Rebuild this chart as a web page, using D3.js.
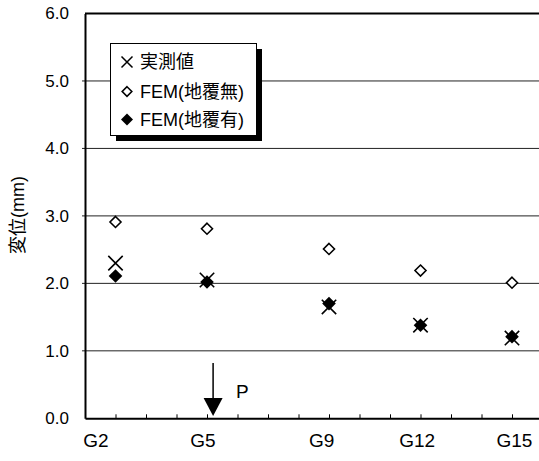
<!DOCTYPE html>
<html><head><meta charset="utf-8">
<script src="https://cdn.jsdelivr.net/npm/d3@7"></script>
<style>body{margin:0;background:#fff}svg{display:block}text{font-family:"Liberation Sans",Arial,"Noto Sans CJK JP",sans-serif;}</style>
</head><body>
<script>
// ---- data ----
const girders = ["G2","G5","G9","G12","G15"];
const girderNo = [2,5,9,12,15];
const measured = [2.30,2.05,1.65,1.38,1.19];      // 実測値
const femNoCurb = [2.91,2.81,2.51,2.19,2.01];     // FEM(地覆無)
const femCurb = [2.11,2.02,1.70,1.38,1.21];       // FEM(地覆有)
const labelPos = [1.36,4.87,8.76,11.89,15.08];    // category label anchor (girder units)
const yTicks = [0,1,2,3,4,5,6];
const loadPos = 5.2, loadLabel = "P";
const legendNames = ["実測値","FEM(地覆無)","FEM(地覆有)"];
const yTitle = "変位(mm)";

const W=539,H=461;
const svg=d3.select("body").append("svg").attr("width",W).attr("height",H);
const x=d3.scaleLinear().domain([1,16]).range([85,542.5]);
const y=d3.scaleLinear().domain([0,6]).range([418.3,13.5]);

// gridlines
svg.append("g").selectAll("line").data(yTicks.filter(d=>d>0&&d<6)).join("line")
  .attr("x1",x(1)-3).attr("x2",W).attr("y1",d=>y(d)).attr("y2",d=>y(d))
  .attr("stroke","#222").attr("stroke-width",1);
// top border
svg.append("line").attr("x1",x(1)).attr("x2",W).attr("y1",y(6)).attr("y2",y(6)).attr("stroke","#000").attr("stroke-width",2);
// y axis
const ya=svg.append("g").attr("transform",`translate(${x(1)},0)`)
  .call(d3.axisLeft(y).tickValues(yTicks).tickFormat(d3.format(".1f")).tickSize(0).tickPadding(16));
ya.select(".domain").attr("stroke","#000").attr("stroke-width",2);
ya.selectAll("text").attr("font-size",17).attr("fill","#000").style("font-family",'"Liberation Sans",Arial,sans-serif');
// x axis
const xa=svg.append("g").attr("transform",`translate(0,${y(0)})`)
  .call(d3.axisTop(x).tickValues(d3.range(2,16)).tickFormat("").tickSize(4).tickSizeOuter(0));
xa.select(".domain").attr("stroke","#000").attr("stroke-width",2);
xa.selectAll(".tick line").attr("stroke","#000");
// x labels
svg.append("g").selectAll("text").data(girders).join("text")
  .attr("x",(d,i)=>x(labelPos[i])).attr("y",447).attr("text-anchor","middle")
  .attr("font-size",19).text(d=>d);
// y title
svg.append("text").attr("transform",`translate(24,215) rotate(-90)`).attr("text-anchor","middle")
  .attr("font-size",18).text(yTitle);

// markers
const diamond=(s)=>`M0,${-s}L${s},0L0,${s}L${-s},0Z`;
const cross=(s)=>`M${-s},${-s}L${s},${s}M${-s},${s}L${s},${-s}`;
const pts=girderNo.map((g,i)=>({g,m:measured[i],a:femNoCurb[i],b:femCurb[i]}));
svg.append("g").selectAll("path").data(pts).join("path")
  .attr("transform",d=>`translate(${x(d.g)},${y(d.a)})`).attr("d",diamond(5.5))
  .attr("fill","#fff").attr("stroke","#000").attr("stroke-width",1.6);
svg.append("g").selectAll("path").data(pts).join("path")
  .attr("transform",d=>`translate(${x(d.g)},${y(d.b)})`).attr("d",diamond(6.8))
  .attr("fill","#000");
svg.append("g").selectAll("path").data(pts).join("path")
  .attr("transform",d=>`translate(${x(d.g)},${y(d.m)})`).attr("d",cross(7.2))
  .attr("fill","none").attr("stroke","#000").attr("stroke-width",1.6);

// load arrow
const ax=x(loadPos);
svg.append("line").attr("x1",ax).attr("x2",ax).attr("y1",363).attr("y2",400).attr("stroke","#000").attr("stroke-width",1.5);
svg.append("path").attr("d",`M${ax-9.5},398L${ax+9.5},398L${ax},416Z`).attr("fill","#000");
svg.append("text").attr("x",ax+23).attr("y",398).attr("font-size",19).text(loadLabel);

// legend
const lg=svg.append("g");
lg.append("rect").attr("x",116).attr("y",49).attr("width",146).attr("height",92).attr("fill","#000");
lg.append("rect").attr("x",110.5).attr("y",43.5).attr("width",146).attr("height",92).attr("fill","#fff").attr("stroke","#000").attr("stroke-width",1);
const rowY=[62,91.5,119.5];
lg.append("path").attr("transform",`translate(127,${rowY[0]})`).attr("d",cross(5.5)).attr("stroke","#000").attr("stroke-width",1.5).attr("fill","none");
lg.append("path").attr("transform",`translate(127,${rowY[1]})`).attr("d",diamond(4.8)).attr("stroke","#000").attr("stroke-width",1.6).attr("fill","#fff");
lg.append("path").attr("transform",`translate(127,${rowY[2]})`).attr("d",diamond(6)).attr("fill","#000");
lg.selectAll("text").data(legendNames).join("text")
  .attr("x",140).attr("y",(d,i)=>rowY[i]).attr("dy","0.36em").attr("font-size",18).text(d=>d);
</script>
</body></html>
